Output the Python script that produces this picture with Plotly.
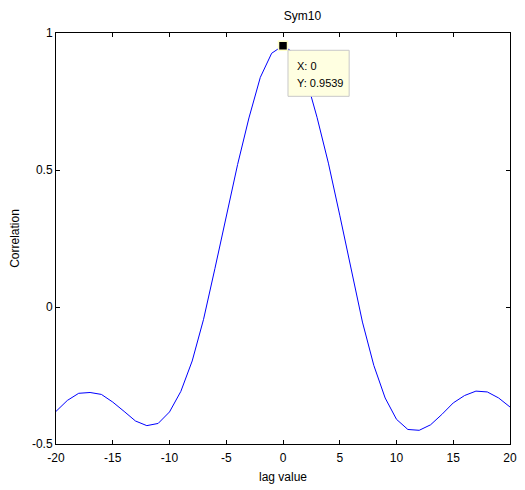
import plotly.graph_objects as go

lags = list(range(-20, 21))
correlation = [
    -0.381, -0.341, -0.315, -0.312, -0.319, -0.347, -0.381, -0.416, -0.433, -0.425,
    -0.383, -0.308, -0.197, -0.045, 0.140, 0.335, 0.520, 0.690, 0.838, 0.926,
    0.9539,
    0.926, 0.840, 0.692, 0.525, 0.335, 0.140, -0.055, -0.213, -0.332, -0.410,
    -0.447, -0.450, -0.430, -0.392, -0.350, -0.323, -0.307, -0.310, -0.332, -0.365,
]
tip_x = 0
tip_y = 0.9539
x_ticks = [-20, -15, -10, -5, 0, 5, 10, 15, 20]
y_ticks = [-0.5, 0, 0.5, 1]

FONT = "Liberation Sans, Arial, sans-serif"

fig = go.Figure()
fig.add_trace(go.Scatter(x=lags, y=correlation, mode="lines",
                         line=dict(color="#0000FF", width=1), hoverinfo="skip"))
fig.add_trace(go.Scatter(x=[tip_x], y=[tip_y], mode="markers",
                         marker=dict(symbol="square", size=9, color="black",
                                     line=dict(color="#FFFFC8", width=1.5)),
                         hoverinfo="skip"))

# datatip box
fig.add_shape(type="rect", xref="x", yref="y",
              x0=tip_x + 0.44, x1=tip_x + 5.83, y0=tip_y - 0.185, y1=tip_y - 0.017,
              fillcolor="#FFFFE1", line=dict(color="#C8C8C8", width=1), layer="above")
fig.add_annotation(x=tip_x + 1.05, y=tip_y - 0.073, xref="x", yref="y",
                   text=f"X: {tip_x}", showarrow=False, xanchor="left", yanchor="middle",
                   font=dict(family=FONT, size=11, color="black"))
fig.add_annotation(x=tip_x + 1.05, y=tip_y - 0.136, xref="x", yref="y",
                   text=f"Y: {tip_y}", showarrow=False, xanchor="left", yanchor="middle",
                   font=dict(family=FONT, size=11, color="black"))

axis_common = dict(showline=True, linecolor="black", linewidth=1, mirror="ticks",
                   ticks="inside", ticklen=4, tickcolor="black", showgrid=False,
                   zeroline=False, tickfont=dict(family=FONT, size=12, color="black"))

fig.update_layout(
    width=525, height=490,
    margin=dict(l=56, r=8, t=33, b=45),
    plot_bgcolor="white", paper_bgcolor="white",
    showlegend=False,
    title=dict(text="Sym10", x=285 / 525, xanchor="center", y=1 - 16 / 490,
               yanchor="middle", xref="paper",
               font=dict(family=FONT, size=12, color="black")),
    xaxis=dict(range=[-20, 20], tickvals=x_ticks, ticktext=[str(v) for v in x_ticks],
               ticklabelstandoff=3,
               title=dict(text="lag value", standoff=8,
                          font=dict(family=FONT, size=12, color="black")),
               **axis_common),
    yaxis=dict(range=[-0.5, 1], tickvals=y_ticks, ticktext=["-0.5", "0", "0.5", "1"],
               title=dict(text="Correlation", standoff=9,
                          font=dict(family=FONT, size=12, color="black")),
               **axis_common),
)

fig.write_html("out.html")
